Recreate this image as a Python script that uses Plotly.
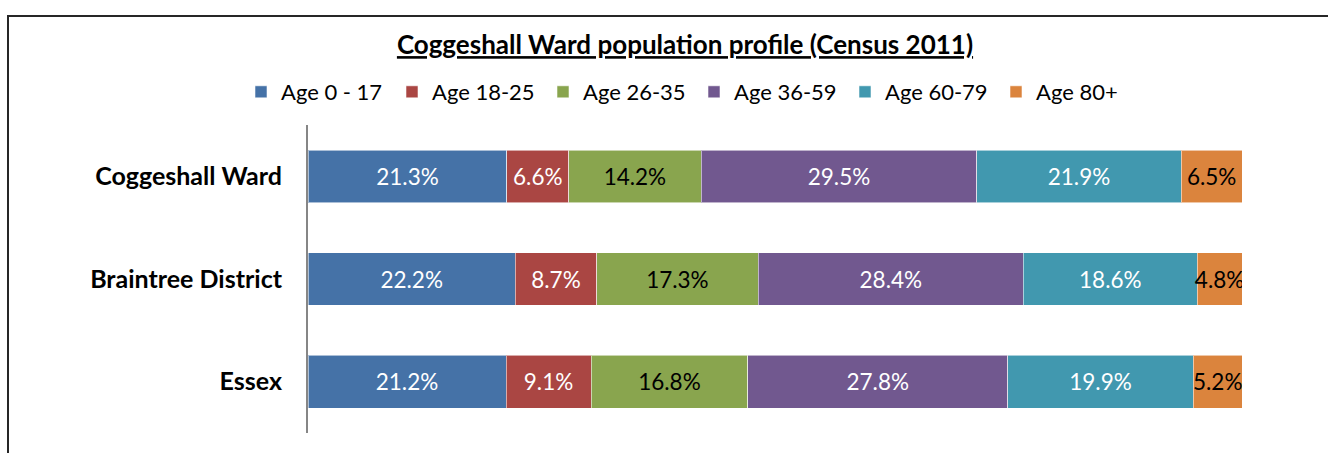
import plotly.graph_objects as go

categories = ["Coggeshall Ward", "Braintree District", "Essex"]
age_groups = ["Age 0 - 17", "Age 18-25", "Age 26-35", "Age 36-59", "Age 60-79", "Age 80+"]
age_0_17 = [21.3, 22.2, 21.2]
age_18_25 = [6.6, 8.7, 9.1]
age_26_35 = [14.2, 17.3, 16.8]
age_36_59 = [29.5, 28.4, 27.8]
age_60_79 = [21.9, 18.6, 19.9]
age_80_plus = [6.5, 4.8, 5.2]
series = [age_0_17, age_18_25, age_26_35, age_36_59, age_60_79, age_80_plus]

colors = ["#4572A7", "#AA4643", "#89A54E", "#71588F", "#4198AF", "#DB843D"]
text_colors = ["white", "white", "black", "white", "white", "black"]

FONT = "Lato"
W, H = 1328, 453
L, R, T, B = 308, 86, 119, 20

fig = go.Figure()
for name, vals, c, tc in zip(age_groups, series, colors, text_colors):
    fig.add_trace(go.Bar(
        y=categories, x=vals, name=name, orientation="h",
        marker=dict(color=c, line=dict(color="rgba(255,255,255,0.55)", width=1)),
        text=[f"{v:.1f}%" for v in vals], textposition="inside", textangle=0,
        insidetextanchor="middle", constraintext="none",
        textfont=dict(color=tc, size=22.5, family=FONT),
        hoverinfo="skip",
    ))

pw = W - L - R
ph = H - T - B
fig.update_layout(
    width=W, height=H,
    barmode="stack", bargap=0.487,
    margin=dict(l=L, r=R, t=T, b=B),
    plot_bgcolor="white", paper_bgcolor="white",
    font=dict(family=FONT, color="black"),
    uniformtext=dict(minsize=22.5, mode="show"),
    title=dict(text="<b><u>Coggeshall Ward population profile (Census 2011)</u></b>",
               x=685 / W, xref="container", xanchor="center",
               y=1 - 45 / H, yref="container", yanchor="middle",
               font=dict(size=26, family=FONT, color="black")),
    legend=dict(orientation="h", x=241 / W, xref="container", xanchor="left",
                y=1 - 92 / H, yref="container", yanchor="middle",
                font=dict(size=22, family=FONT, color="black"),
                entrywidth=106, entrywidthmode="pixels",
                traceorder="normal", itemclick=False, itemdoubleclick=False),
    xaxis=dict(range=[0, 100], visible=False, showgrid=False, zeroline=False),
    yaxis=dict(categoryorder="array", categoryarray=categories, autorange="reversed",
               showline=True, linecolor="#868686", linewidth=2, ticks="",
               showgrid=False, ticklabelstandoff=19,
               tickfont=dict(size=25, family=FONT, color="black", weight="bold")),
    shapes=[dict(type="rect", xref="paper", yref="paper",
                 x0=(8 - L) / pw, x1=(1362 - L) / pw,
                 y0=(H - B - 470) / ph, y1=(H - B - 8) / ph,
                 line=dict(color="#262626", width=2), fillcolor="rgba(0,0,0,0)",
                 layer="below")],
)

fig.write_html("out.html", config={"displayModeBar": False},
               post_script="document.body.style.margin='0';document.body.style.overflow='hidden';")
